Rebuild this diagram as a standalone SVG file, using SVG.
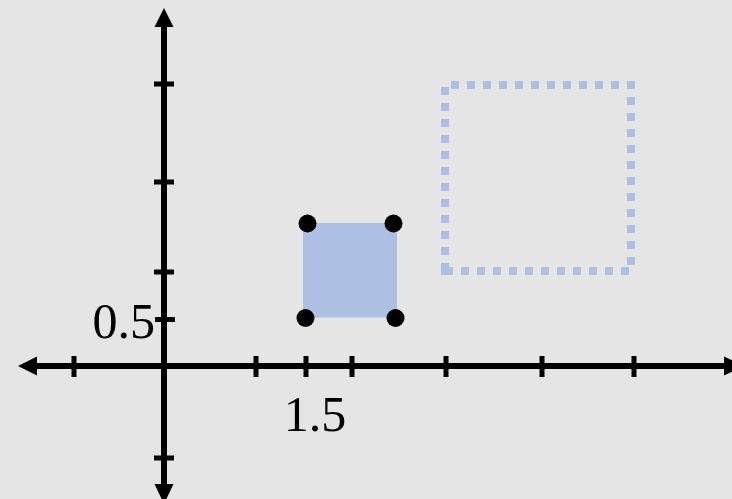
<svg xmlns="http://www.w3.org/2000/svg" width="732" height="499" viewBox="0 0 732 499">
  <style>
    .axis { stroke: #000; stroke-width: 6; fill: none; }
    .tick { stroke: #000; stroke-width: 5; fill: none; }
    .head { fill: #000; }
    .lbl { font-family: "Liberation Serif", "Times New Roman", serif; font-size: 50px; fill: #000; }
    .dot { fill: #000; }
  </style>
  <rect x="0" y="0" width="732" height="499" fill="#e5e5e5"/>
  <g id="connectors">
    <g id="x-axis">
      <line class="axis" x1="34" y1="366" x2="726" y2="366"/>
      <polygon class="head" points="18,366 37,356.5 37,375.5"/>
      <polygon class="head" points="744,366 724,356.5 724,375.5"/>
    </g>
    <g id="y-axis">
      <line class="axis" x1="164" y1="24" x2="164" y2="486"/>
      <polygon class="head" points="164,8 154.5,27 173.5,27"/>
      <polygon class="head" points="164,504 154.5,484 173.5,484"/>
    </g>
    <g id="x-ticks">
      <line class="tick" x1="74" y1="356" x2="74" y2="377"/>
      <line class="tick" x1="256" y1="356" x2="256" y2="377"/>
      <line class="tick" x1="306" y1="356" x2="306" y2="377"/>
      <line class="tick" x1="352" y1="356" x2="352" y2="377"/>
      <line class="tick" x1="446" y1="356" x2="446" y2="377"/>
      <line class="tick" x1="542" y1="356" x2="542" y2="377"/>
      <line class="tick" x1="634" y1="356" x2="634" y2="377"/>
    </g>
    <g id="y-ticks">
      <line class="tick" x1="154" y1="84" x2="174" y2="84"/>
      <line class="tick" x1="154" y1="182" x2="174" y2="182"/>
      <line class="tick" x1="154" y1="272" x2="174" y2="272"/>
      <line class="tick" x1="155" y1="319.5" x2="175" y2="319.5"/>
      <line class="tick" x1="154" y1="458" x2="174" y2="458"/>
    </g>
  </g>
  <g id="label-x">
    <text class="lbl" x="315" y="431" text-anchor="middle">1.5</text>
  </g>
  <g id="label-y">
    <text class="lbl" x="155" y="338" text-anchor="end">0.5</text>
  </g>
  <g id="dotted-square">
    <path d="M445,271 H631 V85 H445 Z" fill="none" stroke="#adc0e4" stroke-width="8" stroke-dasharray="8 8"/>
  </g>
  <g id="filled-square">
    <rect x="303" y="223" width="94" height="94.5" fill="#adc0e4"/>
    <circle class="dot" cx="307.5" cy="223.5" r="9"/>
    <circle class="dot" cx="393.5" cy="223.5" r="9"/>
    <circle class="dot" cx="305.5" cy="318" r="9"/>
    <circle class="dot" cx="395.5" cy="318" r="9"/>
  </g>
</svg>
